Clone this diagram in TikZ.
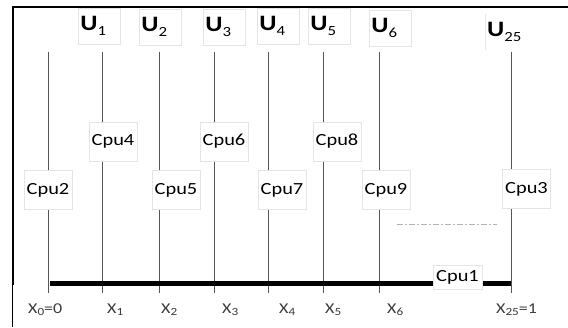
\documentclass[tikz,border=0pt]{standalone}
\usepackage{fontspec}
\setmainfont{Carlito}[FakeStretch=1.2]
\definecolor{linegray}{HTML}{555555}
\definecolor{boxgray}{HTML}{E4E4E4}
\definecolor{xgray}{HTML}{3A3A3A}
\definecolor{dashgray}{HTML}{B0B0B0}
\newcommand{\usub}[1]{\raisebox{-5pt}{\fontsize{14}{14}\selectfont\mdseries #1}}
\newcommand{\xsub}[1]{\raisebox{-2.5pt}{\fontsize{11}{11}\selectfont #1}}
\begin{document}
\begin{tikzpicture}[x=1pt,y=-1pt,
  vline/.style={draw=linegray,line width=0.9pt},
  ubox/.style={draw=boxgray,fill=white,line width=0.6pt,anchor=north west,text width=38pt,inner xsep=2pt,inner ysep=0pt,minimum height=36pt,align=left,font=\fontsize{22}{25}\selectfont\bfseries},
  cpubox/.style={draw=boxgray,fill=white,line width=0.6pt,minimum width=48pt,minimum height=39pt,inner sep=1pt,font=\fontsize{17}{20}\selectfont},
  xlab/.style={anchor=base west,inner sep=0pt,text=xgray,font=\fontsize{15}{17}\selectfont}]
\useasboundingbox (0,0) rectangle (568,327);
% frame
\coordinate (fr) at (568,7);
\coordinate (ftl) at (13,7);
\coordinate (fbl) at (13,284.5);
\coordinate (fb1) at (12.5,284);
\coordinate (fb2) at (12.5,327);
\draw[line width=2.6pt] (fr) -- (ftl) -- (fbl);
\draw[line width=0.8pt] (fb1) -- (fb2);
% vertical lines
\foreach \n/\x in {0/48,1/102,2/159,3/214,4/268,5/323,6/379,25/511}{
  \coordinate (t\n) at (\x,52);
  \coordinate (b\n) at (\x,293);
  \draw[vline] (t\n) -- (b\n);
}
% thick axis
\coordinate (h0) at (50,283);
\coordinate (h25) at (511,283);
\draw[line width=5pt] (h0) -- (h25);
% dash-dot line
\coordinate (d1) at (397,224);
\coordinate (d2) at (497,224);
\draw[dashgray,line width=1pt,dash pattern=on 6pt off 2pt on 2pt off 2pt] (d1) -- (d2);
% U labels
\node[ubox] (U1) at (78,8) {U\usub{1}};
\node[ubox] (U2) at (139,9) {U\usub{2}};
\node[ubox] (U3) at (203,9) {U\usub{3}};
\node[ubox] (U4) at (257,8) {U\usub{4}};
\node[ubox] (U5) at (308,8) {U\usub{5}};
\node[ubox] (U6) at (369,10) {U\usub{6}};
\node[anchor=north west,inner xsep=2pt,inner ysep=0pt,minimum height=36pt,font=\fontsize{22}{25}\selectfont\bfseries] (U25) at (485,14) {U\usub{25}};
\draw[boxgray,line width=0.6pt] (U25.north west) -- (U25.south west);
% Cpu boxes
\node[cpubox] (c4) at (113,141.5) {Cpu4};
\node[cpubox] (c6) at (224,141.5) {Cpu6};
\node[cpubox] (c8) at (337,141.5) {Cpu8};
\node[cpubox] (c2) at (48,190) {Cpu2};
\node[cpubox] (c5) at (176,190) {Cpu5};
\node[cpubox] (c7) at (282,190) {Cpu7};
\node[cpubox] (c9) at (386,190) {Cpu9};
\node[cpubox] (c3) at (526.5,189) {Cpu3};
\node[cpubox,minimum height=24pt,minimum width=49pt] (c1) at (457.5,277) {Cpu1};
% X labels
\node[xlab] (x0) at (28,313) {X\xsub{0}=0};
\node[xlab] (x1) at (107,313) {X\xsub{1}};
\node[xlab] (x2) at (161,313) {X\xsub{2}};
\node[xlab] (x3) at (222,313) {X\xsub{3}};
\node[xlab] (x4) at (279,313) {X\xsub{4}};
\node[xlab] (x5) at (325,313) {X\xsub{5}};
\node[xlab] (x6) at (387,313) {X\xsub{6}};
\node[xlab] (x25) at (496,313) {X\xsub{25}=1};
\end{tikzpicture}
\end{document}
